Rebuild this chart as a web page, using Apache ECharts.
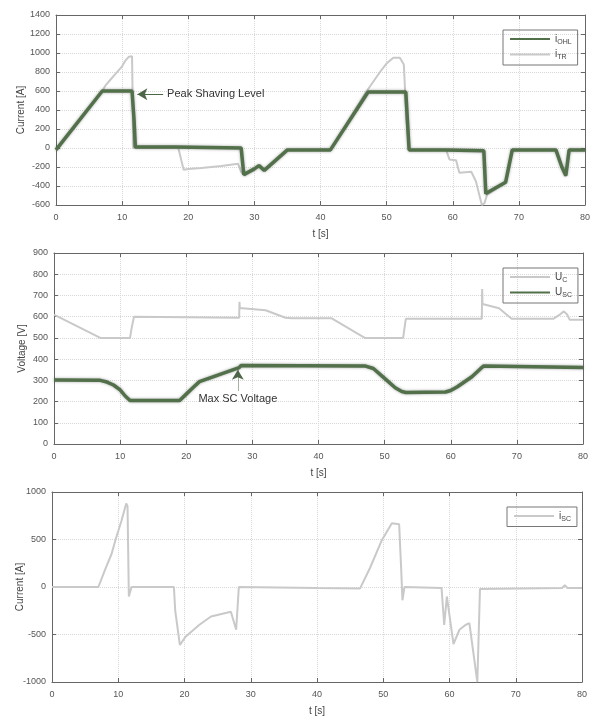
<!DOCTYPE html>
<html>
<head>
<meta charset="utf-8">
<script src="https://cdn.jsdelivr.net/npm/echarts@6/dist/echarts.min.js"></script>
<style>html,body{margin:0;padding:0;background:#fff;}#c{width:592px;height:717px;}</style>
</head>
<body>
<div id="c"></div>
<script>
// ---- Top panel: line currents ----
const tOHL = [0, 0.3, 7, 11.5, 11.8, 12, 18, 28, 28.4, 30, 30.7, 31.5, 35, 36, 41.5, 47.2, 52.9, 53.4, 59, 64.7, 65, 68, 69, 75.6, 76.5, 77.1, 77.4, 77.6, 80];
const iOHL = [-20, 0, 600, 600, 300, 10, 10, 0, -280, -220, -185, -235, -20, -20, -20, 590, 590, -20, -20, -30, -480, -360, -20, -20, -200, -290, -280, -20, -20];
const tTR = [0, 0.3, 7, 7.5, 8, 9, 10, 10.5, 11, 11.5, 11.7, 12, 18.5, 19.3, 20, 22, 25, 27.5, 28, 28.4, 30, 30.7, 31.5, 35, 36, 41.5, 47, 48, 49, 50, 51, 52, 52.6, 53, 53.4, 59, 59.5, 60.5, 61, 62.8, 63.5, 64.4, 64.8, 65.2, 68, 69, 75.6, 76.5, 77.1, 77.4, 77.6, 80];
const iTR = [-20, 0, 600, 660, 700, 780, 860, 920, 960, 965, 0, 10, 0, -230, -220, -210, -190, -165, -250, -280, -220, -185, -235, -20, -20, -20, 600, 700, 800, 890, 950, 950, 880, 300, -20, -20, -120, -130, -260, -250, -350, -600, -580, -490, -360, -20, -20, -200, -300, -290, -20, -20];

// ---- Middle panel: voltages ----
const tUC = [0, 7, 11.5, 11.7, 12.1, 28, 28.05, 28.1, 28.5, 32, 35, 36, 42, 47, 52.8, 53.2, 64.7, 64.75, 64.8, 67.3, 69.2, 75.5, 76.5, 77.1, 77.6, 78, 80];
const uC = [610, 500, 500, 540, 600, 595, 670, 640, 640, 630, 595, 592, 592, 500, 500, 590, 590, 730, 660, 640, 590, 590, 610, 625, 610, 585, 585];
const tUSC = [0, 7, 8, 9, 10, 10.8, 11.5, 19, 20, 21, 22, 25, 28, 28.3, 47, 48.3, 50, 51.6, 52.6, 53.2, 59.2, 60, 61, 63.2, 64.5, 65, 80];
const uSC = [302, 300, 292, 278, 255, 225, 205, 205, 235, 265, 294, 327, 360, 370, 368, 356, 309, 265, 247, 243, 245, 252, 270, 317, 355, 368, 360];

// ---- Bottom panel: SC current ----
const tISC = [0, 7, 8, 9, 9.6, 10.5, 11.2, 11.4, 11.6, 12, 18.4, 18.6, 19.3, 20.2, 22.2, 24, 27, 27.8, 28.2, 40, 46.5, 48, 49.8, 51.3, 52.4, 52.7, 52.9, 53.2, 58.8, 59.2, 59.6, 60.6, 61.5, 62.4, 63, 64.2, 64.6, 77, 77.4, 77.8, 80];
const iSC = [0, 0, 180, 350, 500, 700, 880, 850, -100, 0, 0, -250, -610, -520, -400, -310, -260, -450, 0, -10, -15, 200, 495, 670, 660, 200, -140, 0, -10, -400, -100, -600, -450, -400, -380, -1000, -20, -10, 20, -10, -10];

// ---- axis ticks ----
const xTicks = {min: 0, max: 80, interval: 10};
const yTop = {min: -600, max: 1400, interval: 200};
const yMid = {min: 0, max: 900, interval: 100};
const yBot = {min: -1000, max: 1000, interval: 500};

const legendNames = {i_OHL: ['i', 'OHL'], i_TR: ['i', 'TR'], U_C: ['U', 'C'], U_SC: ['U', 'SC'], i_SC: ['i', 'SC']};

function zip(t, v) { return t.map((x, i) => [x, v[i]]); }

const AX = '#666', LBL = '#555';
function xAx(g, pos, gap) {
  const b = pos === 'bottom';
  return Object.assign({
    type: 'value', gridIndex: g, position: pos,
    axisLine: {show: true, onZero: false, lineStyle: {color: AX}},
    axisTick: {show: true, inside: true, length: 4, lineStyle: {color: AX}},
    axisLabel: {show: b, color: LBL, fontSize: 9, margin: 8, fontFamily: 'Liberation Sans', formatter: v => String(v)},
    splitLine: {show: b, lineStyle: {type: 'dotted', color: '#d8d8d8'}},
    name: b ? 't [s]' : '', nameLocation: 'middle', nameGap: gap, nameMoveOverlap: false,
    nameTextStyle: {color: '#444', fontSize: 10, fontFamily: 'Liberation Sans'}
  }, xTicks);
}
function yAx(g, pos, rng, name, gap) {
  const l = pos === 'left';
  return Object.assign({
    type: 'value', gridIndex: g, position: pos,
    axisLine: {show: true, onZero: false, lineStyle: {color: AX}},
    axisTick: {show: true, inside: true, length: 4, lineStyle: {color: AX}},
    axisLabel: {show: l, color: LBL, fontSize: 9, margin: 6, fontFamily: 'Liberation Sans', formatter: v => String(v)},
    splitLine: {show: l, lineStyle: {type: 'dotted', color: '#d8d8d8'}},
    name: l ? name : '', nameLocation: 'middle', nameGap: gap, nameRotate: 90, nameMoveOverlap: false,
    nameTextStyle: {color: '#444', fontSize: 10, fontFamily: 'Liberation Sans'}
  }, rng);
}
function legend(top, left, names) {
  return {
    orient: 'vertical', left: left, top: top, data: names,
    itemWidth: 40, itemHeight: 10, itemGap: 4, padding: [4, 6, 4, 6],
    borderColor: '#777', borderWidth: 1, borderRadius: 0,
    itemStyle: {opacity: 0},
    formatter: n => '{b|' + legendNames[n][0] + '}{s|' + legendNames[n][1] + '}',
    textStyle: {
      color: '#444',
      rich: {
        b: {fontSize: 10, fontFamily: 'Liberation Sans', color: '#444'},
        s: {fontSize: 7, fontFamily: 'Liberation Sans', color: '#444', padding: [6, 0, 0, 0]}
      }
    }
  };
}
const GREEN = {width: 3.5, color: '#52704a', shadowColor: 'rgba(0,0,0,0.35)', shadowBlur: 3};
const LIGHT = {width: 2, color: '#c9c9c9'};

const option = {
  animation: false,
  backgroundColor: '#fff',
  grid: [
    {left: 56, top: 15, width: 529, height: 190, outerBoundsMode: 'none'},
    {left: 54, top: 253, width: 529, height: 191, outerBoundsMode: 'none'},
    {left: 52, top: 492, width: 530, height: 190, outerBoundsMode: 'none'}
  ],
  xAxis: [xAx(0, 'bottom', 24), xAx(0, 'top', 0), xAx(1, 'bottom', 24), xAx(1, 'top', 0), xAx(2, 'bottom', 24), xAx(2, 'top', 0)],
  yAxis: [yAx(0, 'left', yTop, 'Current [A]', 30), yAx(0, 'right', yTop, '', 0),
          yAx(1, 'left', yMid, 'Voltage [V]', 27), yAx(1, 'right', yMid, '', 0),
          yAx(2, 'left', yBot, 'Current [A]', 27), yAx(2, 'right', yBot, '', 0)],
  legend: [legend(30, 503, ['i_OHL', 'i_TR']), legend(268, 503, ['U_C', 'U_SC']), legend(507, 507, ['i_SC'])],
  series: [
    {name: 'i_TR', type: 'line', xAxisIndex: 0, yAxisIndex: 0, symbol: 'none', data: zip(tTR, iTR), lineStyle: LIGHT, itemStyle: {color: LIGHT.color}},
    {name: 'i_OHL', type: 'line', xAxisIndex: 0, yAxisIndex: 0, symbol: 'none', data: zip(tOHL, iOHL), lineStyle: GREEN, itemStyle: {color: GREEN.color},
     markLine: {silent: true, symbol: ['none', 'arrow'], symbolSize: [9, 10], animation: false,
       lineStyle: {color: '#4d6647', type: 'solid', width: 1},
       label: {show: true, position: 'start', formatter: 'Peak Shaving Level', color: '#333', fontSize: 11, fontFamily: 'Liberation Sans', distance: 4},
       data: [[{coord: [16.2, 565]}, {coord: [12.3, 565]}]]}},
    {name: 'U_C', type: 'line', xAxisIndex: 2, yAxisIndex: 2, symbol: 'none', data: zip(tUC, uC), lineStyle: LIGHT, itemStyle: {color: LIGHT.color}},
    {name: 'U_SC', type: 'line', xAxisIndex: 2, yAxisIndex: 2, symbol: 'none', data: zip(tUSC, uSC), lineStyle: GREEN, itemStyle: {color: GREEN.color},
     markLine: {silent: true, symbol: ['none', 'arrow'], symbolSize: [9, 10], animation: false,
       lineStyle: {color: '#4d6647', type: 'dotted', width: 1},
       label: {show: true, position: 'start', formatter: 'Max SC Voltage', color: '#333', fontSize: 11, fontFamily: 'Liberation Sans', distance: 3},
       data: [[{coord: [27.8, 252]}, {coord: [27.8, 350]}]]}},
    {name: 'i_SC', type: 'line', xAxisIndex: 4, yAxisIndex: 4, symbol: 'none', data: zip(tISC, iSC), lineStyle: LIGHT, itemStyle: {color: LIGHT.color}}
  ]
};
const chart = echarts.init(document.getElementById('c'), null, {renderer: 'canvas'});
chart.setOption(option);
</script>
</body>
</html>
